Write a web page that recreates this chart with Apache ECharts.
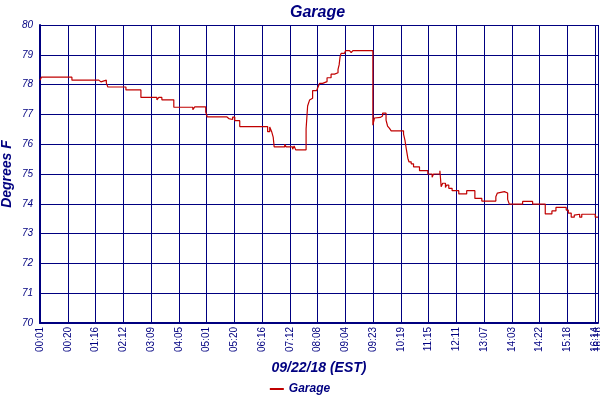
<!DOCTYPE html>
<html>
<head>
<meta charset="utf-8">
<script src="https://cdn.jsdelivr.net/npm/echarts@6/dist/echarts.min.js"></script>
<style>
  html, body { margin: 0; padding: 0; background: #fff; }
  #chart { width: 600px; height: 400px; }
</style>
</head>
<body>
<div id="chart"></div>
<script>
// x is a sample index (20 samples between tick labels), values in degrees F
const tickPos = [0, 20, 40, 60, 80, 100, 120, 140, 160, 180, 200, 220, 240, 260, 280, 300, 320, 340, 360, 380, 400]
const tickLabels = ['00:01', '00:20', '01:16', '02:12', '03:09', '04:05', '05:01', '05:20', '06:16', '07:12',
  '08:08', '09:04', '09:23', '10:19', '11:15', '12:11', '13:07', '14:03', '14:22', '15:18', '16:14']
const lastPos = 402
const lastLabel = '16:16'

const sampleX = [0, 1, 23, 42.4, 43.9, 47.8, 48.9, 61.9, 72.7, 84.2, 85.6, 87.8, 96.4, 110.1, 111.5,
  119.4, 120.5, 134.5, 136, 137.4, 138.8, 140.3, 143.9, 164, 165.5, 166.9, 168, 168.7, 176.3, 177.3,
  182, 183.1, 184.2, 191.7, 192.8, 194.2, 195.3, 196.4, 199.3, 200.4, 201.4, 203.6, 206.8, 209.7,
  212.2, 214.7, 215.5, 216.2, 216.9, 219.4, 220.1, 223, 224.2, 225.4, 239.8, 241, 241.7, 245.3,
  246.8, 249.3, 250.4, 251.8, 253, 261.9, 262.9, 264, 265, 265.8, 267.4, 269.1, 273.4, 279.4,
  282.5, 283.5, 288.1, 289, 290.1, 292.1, 293, 294.5, 296.9, 301.7, 307.4, 313.3, 318.3, 328.4,
  329.5, 330.9, 334.5, 336.9, 338.1, 347.7, 354.9, 364, 368.8, 371.7, 379.1, 380.6, 382.7, 384.9,
  386.3, 388.8, 390.3, 400, 402]
const garage = [78.15, 78.25, 78.15, 78.09, 78.15, 78.05, 77.92, 77.82, 77.57, 77.49, 77.57, 77.49,
  77.24, 77.16, 77.25, 77.08, 76.92, 76.86, 76.92, 76.83, 76.91, 76.79, 76.59, 76.42, 76.58, 76.42,
  76.24, 75.91, 76.0, 75.91, 75.83, 75.94, 75.81, 76.51, 77.28, 77.48, 77.54, 77.8, 77.82, 77.93,
  78.04, 78.1, 78.23, 78.35, 78.4, 78.51, 78.66, 78.94, 79.05, 79.07, 79.14, 79.16, 79.07, 79.14,
  76.64, 76.88, 76.9, 76.95, 77.04, 76.81, 76.61, 76.53, 76.45, 76.34, 76.14, 75.81, 75.53, 75.41,
  75.34, 75.24, 75.11, 75.0, 74.89, 75.0, 75.11, 74.57, 74.69, 74.55, 74.63, 74.52, 74.44, 74.33,
  74.44, 74.18, 74.09, 74.24, 74.36, 74.41, 74.36, 74.15, 73.99, 74.08, 73.99, 73.66, 73.76, 73.88,
  73.79, 73.69, 73.55, 73.62, 73.65, 73.55, 73.65, 73.55, 73.55]

const navy = '#000080'
const font = 'Liberation Sans'
const labelStyle = { rotate: 90, margin: 4, color: navy, fontSize: 10, fontFamily: font }

const chart = echarts.init(document.getElementById('chart'))
chart.setOption({
  backgroundColor: '#fff',
  animation: false,
  title: {
    text: 'Garage',
    left: 285,
    top: 0,
    textStyle: { color: navy, fontSize: 16, fontWeight: 'bold', fontStyle: 'italic', fontFamily: font }
  },
  legend: {
    bottom: 0,
    left: 'center',
    icon: 'rect',
    itemWidth: 14,
    itemHeight: 2,
    itemGap: 4,
    textStyle: { color: navy, fontSize: 12, fontWeight: 'bold', fontStyle: 'italic', fontFamily: font },
    data: ['Garage']
  },
  grid: { left: 40, right: 2, top: 25, bottom: 77, containLabel: false, outerBoundsMode: 'none' },
  xAxis: [{
    type: 'value',
    min: 0,
    max: lastPos,
    interval: 20,
    name: '09/22/18 (EST)',
    nameLocation: 'middle',
    nameGap: 38,
    nameMoveOverlap: false,
    nameTextStyle: { color: navy, fontSize: 14, fontWeight: 'bold', fontStyle: 'italic', fontFamily: font },
    axisLine: { lineStyle: { color: navy, width: 2 } },
    axisTick: { show: false },
    splitLine: { show: true, lineStyle: { color: navy, width: 1 } },
    axisLabel: Object.assign({}, labelStyle, {
      showMinLabel: true,
      showMaxLabel: true,
      customValues: tickPos,
      formatter: v => {
        const i = tickPos.indexOf(v)
        return i >= 0 ? tickLabels[i] : ''
      }
    })
  }, {
    // second label row holding only the end time, drawn over the last tick
    type: 'value',
    position: 'bottom',
    min: 0,
    max: lastPos,
    axisLine: { show: false },
    axisTick: { show: false },
    splitLine: { show: false },
    axisLabel: Object.assign({}, labelStyle, {
      showMinLabel: false,
      showMaxLabel: true,
      customValues: [lastPos],
      formatter: () => lastLabel
    })
  }],
  yAxis: {
    type: 'value',
    min: 70,
    max: 80,
    interval: 1,
    name: 'Degrees F',
    nameLocation: 'middle',
    nameGap: 26,
    nameMoveOverlap: false,
    nameTextStyle: { color: navy, fontSize: 14, fontWeight: 'bold', fontStyle: 'italic', fontFamily: font },
    axisLine: { show: true, lineStyle: { color: navy, width: 2 } },
    axisTick: { show: false },
    splitLine: { show: true, lineStyle: { color: navy, width: 1 } },
    axisLabel: { color: navy, fontSize: 10, fontStyle: 'italic', fontFamily: font, margin: 7 }
  },
  series: [{
    name: 'Garage',
    type: 'line',
    step: 'end',
    showSymbol: false,
    color: '#C00000',
    lineStyle: { width: 1.2, color: '#C00000' },
    data: sampleX.map((x, i) => [x, garage[i]])
  }]
})
</script>
</body>
</html>
